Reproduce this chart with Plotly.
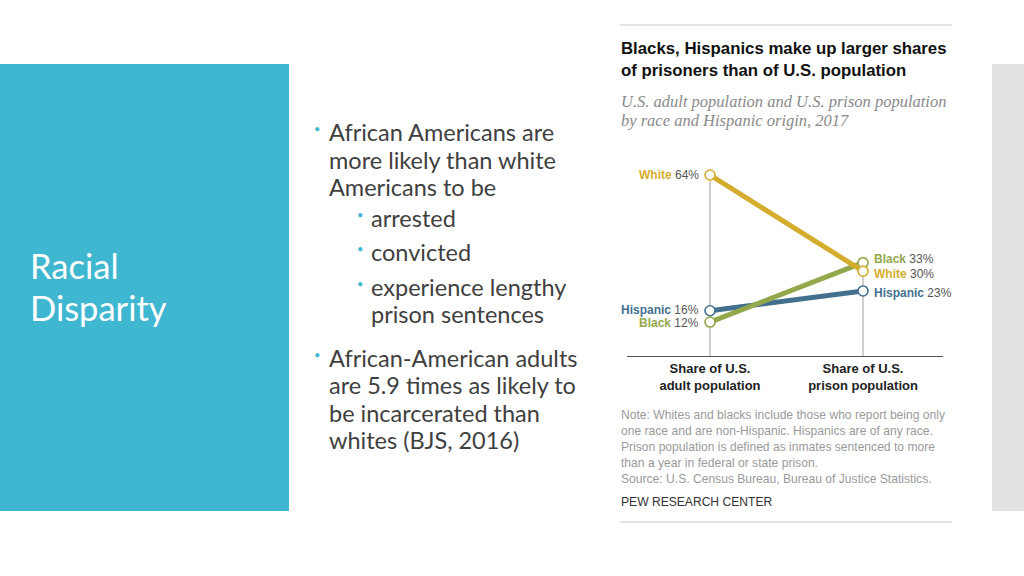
import plotly.graph_objects as go

# ---- data ----
categories = ["Share of U.S.<br>adult population", "Share of U.S.<br>prison population"]
groups = ["Hispanic", "Black", "White"]
adult_share = [16, 12, 64]
prison_share = [23, 33, 30]
colors = {"White": "#d5ad2e", "Black": "#93a84a", "Hispanic": "#44708f"}
label_shift_left = {"White": 0, "Black": -1, "Hispanic": 1}
label_shift_right = {"White": -3, "Black": 4, "Hispanic": -2}

W, H = 1024, 576
def px(x):
    return x / W
def py(y):
    return 1 - y / H

fig = go.Figure()

# vertical guide lines (from 0 to the larger value of each column)
for i, vals in enumerate([adult_share, prison_share]):
    fig.add_shape(type="line", xref="x", yref="y", x0=i, x1=i, y0=0, y1=max(vals),
                  line=dict(color="#a0a0a0", width=1), layer="below")

for g, a, p in zip(groups, adult_share, prison_share):
    fig.add_trace(go.Scatter(
        x=[0, 1], y=[a, p], mode="lines+markers", name=g,
        line=dict(color=colors[g], width=5),
        marker=dict(size=10, color="white", line=dict(color=colors[g], width=1.6)),
        cliponaxis=False, showlegend=False, hoverinfo="skip"))

lab_font = dict(family="Liberation Sans, Arial", size=12, color="#555")
for g, a, p in zip(groups, adult_share, prison_share):
    fig.add_annotation(x=0, y=a, xref="x", yref="y", xanchor="right", yanchor="middle",
                       xshift=-9, yshift=label_shift_left[g], showarrow=False,
                       text=f"<b><span style='color:{colors[g]}'>{g}</span></b> {a}%", font=lab_font)
    fig.add_annotation(x=1, y=p, xref="x", yref="y", xanchor="left", yanchor="middle",
                       xshift=9, yshift=label_shift_right[g], showarrow=False,
                       text=f"<b><span style='color:{colors[g]}'>{g}</span></b> {p}%", font=lab_font)

x0_px, x1_px = 710, 863
left_px, right_px = 627, 943
unit = (x1_px - x0_px)
xr = [(left_px - x0_px) / unit, (right_px - x0_px) / unit]

fig.update_xaxes(domain=[px(left_px), px(right_px)], range=xr, tickvals=[0, 1],
                 ticktext=[f"<b>{c}</b>" for c in categories], showgrid=False, zeroline=False,
                 showline=True, linecolor="#555", linewidth=1, ticks="",
                 tickfont=dict(family="Liberation Sans, Arial", size=13, color="#222"))
fig.update_yaxes(domain=[py(356), py(175)], range=[0, 64], visible=False, showgrid=False)

shapes = []
# slide panels
shapes.append(dict(type="rect", xref="paper", yref="paper", x0=px(0), x1=px(289), y0=py(511), y1=py(64),
                   fillcolor="#40b7d1", line=dict(width=0), layer="below"))
shapes.append(dict(type="rect", xref="paper", yref="paper", x0=px(992), x1=px(1024), y0=py(511), y1=py(64),
                   fillcolor="#e2e2e2", line=dict(width=0), layer="below"))
# chart rules
for yy in (25, 522):
    shapes.append(dict(type="line", xref="paper", yref="paper", x0=px(620), x1=px(952), y0=py(yy), y1=py(yy),
                       line=dict(color="#c8c8c8", width=1)))
for s in shapes:
    fig.add_shape(**s)

def ann(x, y, text, size, color, family, xanchor="left"):
    fig.add_annotation(x=px(x), y=py(y), xref="paper", yref="paper", xanchor=xanchor, yanchor="middle",
                       showarrow=False, text=text, align="left",
                       font=dict(family=family, size=size, color=color))

# left panel title
ann(28, 265, "Racial", 34.5, "white", "Lato")
ann(28, 307, "Disparity", 34.5, "white", "Lato")

# bullets
body = "#404040"
teal = "#3fb8d0"
main_lines = [(132, "African Americans are", True), (160, "more likely than white", False),
              (187, "Americans to be", False)]
sub_lines = [(218, "arrested", True), (252, "convicted", True), (287, "experience lengthy", True),
             (314, "prison sentences", False)]
main2 = [(358, "African-American adults", True), (385, "are 5.9 times as likely to", False),
         (413, "be incarcerated than", False), (440, "whites (BJS, 2016)", False)]
for y, t, b in main_lines + main2:
    ann(327, y, t, 23.5, body, "Lato")
    if b:
        ann(312, y - 4, "•", 11, teal, "Lato")
for y, t, b in sub_lines:
    ann(369, y, t, 23.5, body, "Lato")
    if b:
        ann(355, y - 4, "•", 11, teal, "Lato")

# chart title / subtitle
ann(619, 48, "<b>Blacks, Hispanics make up larger shares</b>", 16.8, "#111", "Liberation Sans, Arial")
ann(619, 70, "<b>of prisoners than of U.S. population</b>", 16.8, "#111", "Liberation Sans, Arial")
ann(619, 101, "<i>U.S. adult population and U.S. prison population</i>", 16.5, "#8a8a8a", "Liberation Serif")
ann(619, 121, "<i>by race and Hispanic origin, 2017</i>", 16.5, "#8a8a8a", "Liberation Serif")

notes = ["Note: Whites and blacks include those who report being only",
         "one race and are non-Hispanic. Hispanics are of any race.",
         "Prison population is defined as inmates sentenced to more",
         "than a year in federal or state prison.",
         "Source: U.S. Census Bureau, Bureau of Justice Statistics."]
for k, t in enumerate(notes):
    ann(619, 415 + 16 * k, t, 12.1, "#9a9a9a", "Liberation Sans, Arial")
ann(619, 502, "PEW RESEARCH CENTER", 12.1, "#333", "Liberation Sans, Arial")

fig.update_layout(width=W, height=H, margin=dict(l=0, r=0, t=0, b=0),
                  paper_bgcolor="white", plot_bgcolor="rgba(0,0,0,0)")
fig.write_html("out.html", config={"displayModeBar": False},
               post_script="document.body.style.margin='0px';document.body.style.overflow='hidden';")
